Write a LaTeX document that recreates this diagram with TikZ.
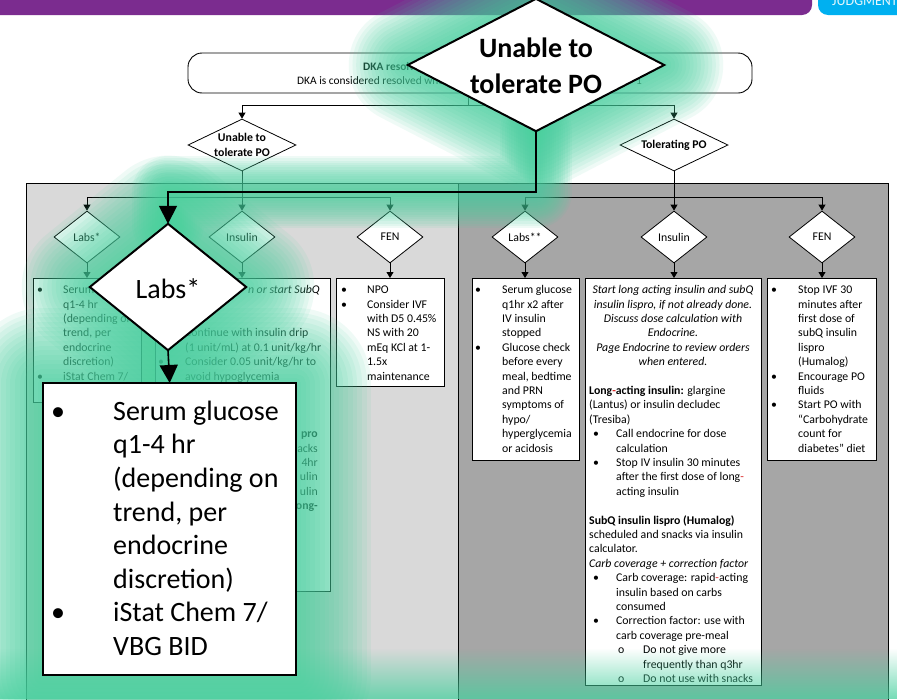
\documentclass[tikz,border=0pt]{standalone}
\usepackage{fontspec}
\setmainfont{Carlito}
\usetikzlibrary{arrows.meta,shapes.geometric,fadings}
\definecolor{purp}{RGB}{123,44,143}
\definecolor{cyanT}{RGB}{0,176,240}
\definecolor{panelL}{RGB}{217,217,217}
\definecolor{panelR}{RGB}{166,166,166}
\definecolor{glowc}{RGB}{70,208,158}
\definecolor{redh}{RGB}{220,40,40}
\newcommand{\rh}{\textcolor{redh}{-}}
\newcommand{\fs}{\fontsize{11.8}{14.4}\selectfont}
\newcommand{\glowit}[2]{\foreach \k in {1,...,16}{\draw[glowc, opacity=0.085, line width=\k*#1/16, line join=round, line cap=round] #2;}}
\tikzfading[name=fadeup, top color=transparent!100, bottom color=transparent!0]
\begin{document}
\begin{tikzpicture}[x=1pt,y=-1pt,
  thinl/.style={line width=0.8pt},
  arr/.style={line width=0.8pt, -{Triangle[length=6pt,width=7pt]}},
  bigarr/.style={line width=1.6pt, -{Triangle[length=18pt,width=18pt]}},
  box/.style={draw, fill=white, line width=0.8pt, inner sep=0pt, anchor=north west},
  smalldia/.style={shape=diamond, draw, fill=white, line width=0.8pt, inner sep=0pt, minimum width=66pt, minimum height=52pt},
  topdia/.style={shape=diamond, draw, fill=white, line width=0.8pt, inner sep=0pt, minimum width=108pt, minimum height=52pt},
  lbl/.style={inner sep=0pt, font=\fs, align=center},
  txt/.style={inner sep=0pt, anchor=north west, font=\fs},
]
\useasboundingbox (0,0) rectangle (897,699);
\clip (0,0) rectangle (897,699);
\fill[white] (0,0) rectangle (897,699);

% header bar
\fill[purp, rounded corners=10pt] (-30,-30) rectangle (812,15);
\begin{scope}
\fill[cyanT, rounded corners=10pt] (818,-30) rectangle (930,15);
\clip (818,0) rectangle (897,15);
\node[anchor=base west, inner sep=0, text=white!90!cyan, font=\fontsize{14}{16}\selectfont] (judg) at (832,5) {JUDGMENT};
\end{scope}

% DKA resolved box
\node[draw, fill=white, rounded corners=14pt, line width=0.9pt, minimum width=564pt, minimum height=40pt, inner sep=0] (dka) at (470,73) {};
\node[anchor=base west, inner sep=0, font=\fontsize{11.4}{13}\selectfont\bfseries] (dkaT) at (363,70) {DKA resolved};
\node[anchor=base west, inner sep=0, font=\fontsize{11.4}{13}\selectfont] (dkaS) at (297,84) {DKA is considered resolved when};
\node[anchor=base west, inner sep=0, font=\fontsize{11.4}{13}\selectfont] (dkaE) at (636,84) {1};

\node[topdia] (utp) at (242,145) {};
\node[lbl, font=\fs\bfseries] (utpT) at (242,145) {Unable to\\tolerate PO};
\node[topdia] (tpo) at (674,145) {};
\node[lbl, font=\fs\bfseries] (tpoT) at (674,145) {Tolerating PO};
\coordinate (jT) at (468,105);
\draw[thinl] (dka.south -| jT) -- (jT);
\draw[arr] (jT) -| (utp.north);
\draw[arr] (jT) -| (tpo.north);

% panels
\fill[panelL] (26,183) rectangle (458,720);
\fill[panelR] (458,183) rectangle (888,720);
\draw[thinl] (26,720) -- (26,183) -- (888,183) -- (888,720);
\draw[thinl] (458,183) -- (458,720);

% left panel
\node[smalldia] (lL) at (87,237) {};
\node[lbl] (lLT) at (87,237) {Labs*};
\node[smalldia] (lI) at (242,237) {};
\node[lbl] (lIT) at (242,237) {Insulin};
\node[smalldia] (lF) at (390,237) {};
\node[lbl] (lFT) at (390,237) {FEN};
\coordinate (jL) at (242,197);
\draw[thinl] (utp.south) -- (jL);
\draw[arr] (jL) -| (lL.north);
\draw[arr] (jL) -- (lI.north);
\draw[arr] (jL) -| (lF.north);

\node[box, minimum width=108pt, minimum height=124pt] (lLb) at (33,278) {};
\node[box, minimum width=175pt, minimum height=313pt] (lIb) at (155,278) {};
\node[box, minimum width=108pt, minimum height=108pt] (lFb) at (336,278) {};
\draw[arr] (lL.south) -- (lL.south |- lLb.north);
\draw[arr] (lI.south) -- (lI.south |- lIb.north);
\draw[arr] (lF.south) -- (lF.south |- lFb.north);

\node[txt] (lLbT) at (37,283.4) {\begin{tabular}{@{}p{26pt}@{}l@{}}\textbullet & Serum glucose\\ & q1-4 hr\\ & (depending on\\ & trend, per\\ & endocrine\\ & discretion)\\ \textbullet & iStat Chem 7/\\ & VBG BID\end{tabular}};
\node[txt, anchor=north east] (lIbA) at (320,283.4) {\strut\itshape n or start SubQ};
\node[txt] (lIbB) at (158,326.6) {\begin{tabular}{@{}p{27pt}@{}l@{}}\textbullet & Continue with insulin drip\\ & (1 unit/mL) at 0.1 unit/kg/hr\\ \textbullet & Consider 0.05 unit/kg/hr to\\ & avoid hypoglycemia\end{tabular}};
\node[txt, anchor=north east] (lIbC) at (318,427.4) {\begin{tabular}{@{}r@{}}\textbf{pro}\\ nacks\\ 4hr\\ ulin\\ ulin\\ \textbf{ong-}\end{tabular}};
\node[txt] (lFbT) at (341,283.4) {\begin{tabular}{@{}p{26pt}@{}l@{}}\textbullet & NPO\\ \textbullet & Consider IVF\\ & with D5 0.45\%\\ & NS with 20\\ & mEq KCl at 1-\\ & 1.5x\\ & maintenance\end{tabular}};

% right panel
\node[smalldia] (rL) at (525,237) {};
\node[lbl] (rLT) at (525,237) {Labs**};
\node[smalldia] (rI) at (674,237) {};
\node[lbl] (rIT) at (674,237) {Insulin};
\node[smalldia] (rF) at (822,237) {};
\node[lbl] (rFT) at (822,237) {FEN};
\coordinate (jR) at (674,197);
\draw[thinl] (tpo.south) -- (jR);
\draw[arr] (jR) -| (rL.north);
\draw[arr] (jR) -- (rI.north);
\draw[arr] (jR) -| (rF.north);

\node[box, minimum width=107pt, minimum height=182pt] (rLb) at (472,278) {};
\node[box, minimum width=176pt, minimum height=407pt] (rIb) at (585,278) {};
\node[box, minimum width=109pt, minimum height=182pt] (rFb) at (767,278) {};
\draw[arr] (rL.south) -- (rL.south |- rLb.north);
\draw[arr] (rI.south) -- (rI.south |- rIb.north);
\draw[arr] (rF.south) -- (rF.south |- rFb.north);

\node[txt] (rLbT) at (475,283.4) {\begin{tabular}{@{}p{27pt}@{}l@{}}\textbullet & Serum glucose\\ & q1hr x2 after\\ & IV insulin\\ & stopped\\ \textbullet & Glucose check\\ & before every\\ & meal, bedtime\\ & and PRN\\ & symptoms of\\ & hypo/\\ & hyperglycemia\\ & or acidosis\end{tabular}};
\node[txt] (rFbT) at (771,283.4) {\begin{tabular}{@{}p{27pt}@{}l@{}}\textbullet & Stop IVF 30\\ & minutes after\\ & first dose of\\ & subQ insulin\\ & lispro\\ & (Humalog)\\ \textbullet & Encourage PO\\ & fluids\\ \textbullet & Start PO with\\ & “Carbohydrate\\ & count for\\ & diabetes” diet\end{tabular}};
\node[txt, anchor=north] (rIbA) at (673,283.4) {\itshape\begin{tabular}{@{}c@{}}Start long acting insulin and subQ\\ insulin lispro, if not already done.\\ Discuss dose calculation with\\ Endocrine.\\ Page Endocrine to review orders\\ when entered.\end{tabular}};
\node[txt] (rIbB) at (589,384.2) {\begin{tabular}{@{}l@{}}\textbf{Long\rh acting insulin:} glargine\\ (Lantus) or insulin decludec\\ (Tresiba)\end{tabular}};
\node[txt] (rIbC) at (593,427.4) {\begin{tabular}{@{}p{23pt}@{}l@{}}\textbullet & Call endocrine for dose\\ & calculation\\ \textbullet & Stop IV insulin 30 minutes\\ & after the first dose of long\rh\\ & acting insulin\end{tabular}};
\node[txt] (rIbD) at (589,513.8) {\begin{tabular}{@{}l@{}}\textbf{SubQ insulin lispro (Humalog)}\\ scheduled and snacks via insulin\\ calculator.\\ \textit{Carb coverage + correction factor}\end{tabular}};
\node[txt] (rIbE) at (593,571.4) {\begin{tabular}{@{}p{23pt}@{}l@{}}\textbullet & Carb coverage: rapid\rh acting\\ & insulin based on carbs\\ & consumed\\ \textbullet & Correction factor: use with\\ & carb coverage pre-meal\end{tabular}};
\node[txt] (rIbF) at (618,643.4) {\begin{tabular}{@{}p{25pt}@{}l@{}}o & Do not give more\\ & frequently than q3hr\\ o & Do not use with snacks\end{tabular}};

% magnified callouts (positions)
\coordinate (bigtopC) at (536,65);
\coordinate (labsC) at (168,287);
\path (bigtopC) node[shape=diamond, minimum width=256pt, minimum height=132pt, inner sep=0] (bigtop) {};
\path (labsC) node[shape=diamond, minimum width=156pt, minimum height=126pt, inner sep=0] (labsbig) {};
\node[anchor=north west, minimum width=253pt, minimum height=292pt, inner sep=0] (bigbox) at (43,383) {};
\coordinate (cb) at (168,192);

% glow
\glowit{118}{(bigtop.north) -- (bigtop.east) -- (bigtop.south) -- (bigtop.west) -- cycle}
\glowit{72}{(bigtop.south) |- (cb) -- (labsbig.north)}
\glowit{136}{(labsbig.north) -- (labsbig.east) -- (labsbig.south) -- (labsbig.west) -- cycle}
\glowit{150}{(bigbox.north west) rectangle (bigbox.south east)}
\fill[glowc, opacity=0.75, path fading=fadeup] (0,648) rectangle (897,699);

% callout connectors
\draw[bigarr] (bigtop.south) |- (cb) -- (labsbig.north);
\draw[bigarr] (labsbig.south) -- (bigbox.north);

% big shapes
\draw[line width=2pt, fill=white] (bigtop.north) -- (bigtop.east) -- (bigtop.south) -- (bigtop.west) -- cycle;
\node[inner sep=0, align=center, font=\fontsize{28}{36}\selectfont\bfseries] (bigtopT) at (536,66) {Unable to\\tolerate PO};
\draw[line width=2pt, fill=white] (labsbig.north) -- (labsbig.east) -- (labsbig.south) -- (labsbig.west) -- cycle;
\node[inner sep=0, font=\fontsize{28}{33}\selectfont] (labsbigT) at (168,289) {Labs*};
\draw[line width=2pt, fill=white] (bigbox.north west) rectangle (bigbox.south east);
\node[inner sep=0, anchor=north west, font=\fontsize{28}{33.6}\selectfont] (bigboxT) at (51,396.5) {\begin{tabular}{@{}p{62pt}@{}l@{}}\textbullet & Serum glucose\\ & q1-4 hr\\ & (depending on\\ & trend, per\\ & endocrine\\ & discretion)\\ \textbullet & iStat Chem 7/\\ & VBG BID\end{tabular}};
\end{tikzpicture}
\end{document}
